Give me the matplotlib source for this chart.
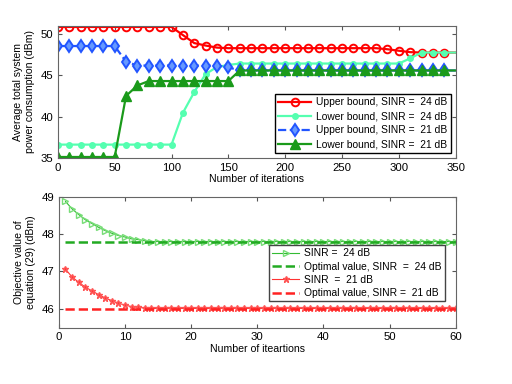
import numpy as np
import matplotlib
matplotlib.use("Agg")
import matplotlib.pyplot as plt

plt.rcParams['font.family'] = ['Liberation Sans', 'DejaVu Sans']
plt.rcParams['font.size'] = 7.6

# ---- Top chart data (every 10 iterations, 0..350) ----
iters_top = list(range(0, 351, 10))
upper_24 = [50.85]*11 + [49.87, 48.9, 48.6, 48.35] + [48.28]*14 + [48.15, 47.97, 47.8, 47.75, 47.75, 47.75, 47.75]
lower_24 = [36.6]*11 + [40.45, 42.96, 45.15, 46.0, 46.25] + [46.42]*15 + [47.05, 47.75, 47.75, 47.75, 47.75]
upper_21 = [48.54]*6 + [46.64] + [46.18]*8 + [45.96] + [45.58]*20
lower_21 = [35.1]*6 + [42.5, 43.77] + [44.3]*8 + [45.58]*20

# ---- Bottom chart data (iterations 1..60) ----
iters_bot = list(range(1, 61))
obj_24 = [48.87, 48.67, 48.52, 48.38, 48.28, 48.18, 48.09, 48.02, 47.96, 47.92,
          47.87, 47.85, 47.82] + [47.8]*47
obj_21 = [47.06, 46.85, 46.71, 46.58, 46.48, 46.38, 46.29, 46.22, 46.15, 46.10,
          46.06, 46.04, 46.02] + [46.01]*47
opt_24 = 47.78
opt_21 = 46.0

fig = plt.figure(figsize=(5.12, 3.84), dpi=100)
ax1 = fig.add_axes([0.113, 0.589, 0.777, 0.344])
ax2 = fig.add_axes([0.115, 0.147, 0.775, 0.341])

mk = list(range(35))
ax1.plot(iters_top, upper_24, '-o', color='#ff0000', lw=1.6, ms=5.5, mfc='none', mew=1.4,
         markevery=mk, label='Upper bound, SINR =  24 dB')
ax1.plot(iters_top, lower_24, '-o', color='#55ffb0', lw=1.6, ms=4, mfc='#55ffb0', mew=1,
         markevery=mk, label='Lower bound, SINR =  24 dB')
ax1.plot(iters_top, upper_21, '--d', color='#2255ff', lw=1.6, ms=6.5, mfc='#6699ff', mew=1.4,
         markevery=mk, label='Upper bound, SINR =  21 dB')
ax1.plot(iters_top, lower_21, '-^', color='#1a9a1a', lw=1.6, ms=6.5, mfc='#1a9a1a',
         markevery=mk, label='Lower bound, SINR =  21 dB')
ax1.set_xlim(0, 350)
ax1.set_ylim(35, 51)
ax1.set_xticks(range(0, 351, 50))
ax1.set_yticks([35, 40, 45, 50])
ax1.set_xlabel('Number of iterations', labelpad=1)
ax1.set_ylabel('Average total system\npower consumption (dBm)')
ax1.legend(loc='lower right', fancybox=False, edgecolor='black', framealpha=1,
           borderaxespad=0.45, handlelength=3.2, handletextpad=0.5, labelspacing=0.4,
           borderpad=0.35, fontsize=7.4)

ax2.plot(iters_bot, obj_24, '->', color='#33bb33', lw=0.8, ms=5, mfc='none', mec='#77dd77',
         mew=1, label='SINR =  24 dB')
ax2.plot([iters_bot[0], iters_bot[-1]], [opt_24, opt_24], '--', color='#22aa22', lw=1.8,
         label='Optimal value, SINR  =  24 dB')
ax2.plot(iters_bot, obj_21, '-*', color='#ff3333', lw=0.8, ms=5, mec='#ff5555',
         label='SINR  =  21 dB')
ax2.plot([iters_bot[0], iters_bot[-1]], [opt_21, opt_21], '--', color='#ff2222', lw=1.8,
         label='Optimal value, SINR =  21 dB')
ax2.set_xlim(0, 60)
ax2.set_ylim(45.5, 49)
ax2.set_xticks(range(0, 61, 10))
ax2.set_yticks([46, 47, 48, 49])
ax2.set_xlabel('Number of iteartions', labelpad=1)
ax2.set_ylabel('Objective value of\nequation (29) (dBm)')
ax2.legend(loc='center right', bbox_to_anchor=(0.985, 0.415), fancybox=False,
           edgecolor='#444444', framealpha=1, handlelength=2.6, handletextpad=0.5,
           labelspacing=0.32, borderpad=0.3, fontsize=7.4)

for ax in (ax1, ax2):
    ax.tick_params(direction='in', top=True, right=True, length=3, color='#555555',
                   labelsize=8.2)
    for s in ax.spines.values():
        s.set_color('#666666')

fig.savefig('out.png', dpi=100)
